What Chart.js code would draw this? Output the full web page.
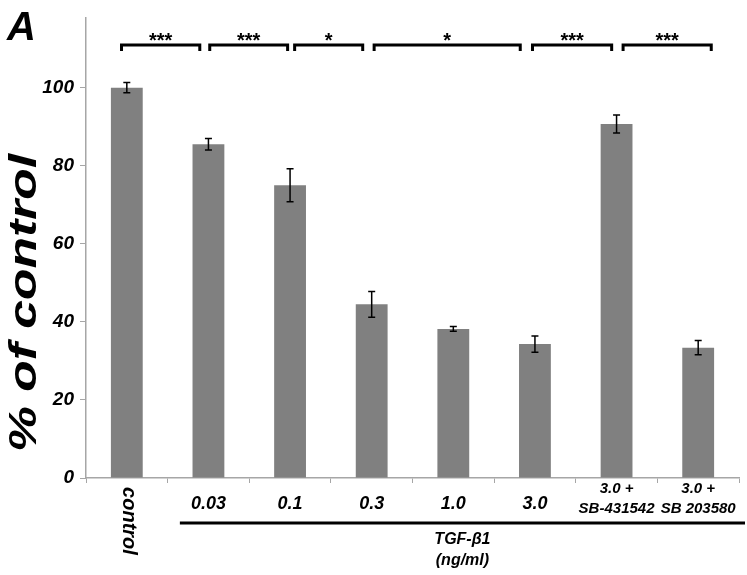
<!DOCTYPE html>
<html>
<head>
<meta charset="utf-8">
<script src="https://cdn.jsdelivr.net/npm/chart.js@4.4.1/dist/chart.umd.min.js"></script>
<style>
  html, body { margin: 0; padding: 0; background: #fff; }
  canvas { display: block; }
</style>
</head>
<body>
<canvas id="barChart" width="747" height="575"></canvas>
<script>
// данные с картинки
const categories = ["control", "0.03", "0.1", "0.3", "1.0", "3.0", ["3.0 +", "SB-431542"], ["3.0 +", "SB 203580"]];
const values = [100, 85.5, 75.0, 44.5, 38.2, 34.3, 90.7, 33.4];
const errors = [1.3, 1.5, 4.2, 3.3, 0.6, 2.1, 2.3, 1.8];
const yTicks = [0, 20, 40, 60, 80, 100];

// скобки значимости (в единицах категорий)
const bracketFrom = [-0.065, 1.016, 2.056, 3.03, 4.97, 6.08];
const bracketTo = [0.894, 1.97, 2.89, 4.82, 5.94, 7.16];
const bracketStars = ["***", "***", "*", "*", "***", "***"];

const groupLabel = ["TGF-β1", "(ng/ml)"];
const panelLabel = "A";
const yTitle = "% of control";

const FONT = "'Liberation Sans', Arial, sans-serif";
const AXIS_GRAY = "#a6a6a6";

// текст, растянутый до нужной ширины
function fitText(ctx, text, x, y, width) {
  const w = ctx.measureText(text).width;
  ctx.save();
  ctx.translate(x, y);
  ctx.scale(width / w, 1);
  ctx.fillText(text, 0, 0);
  ctx.restore();
}

const annotations = {
  id: "annotations",
  afterDatasetsDraw(chart) {
    const { ctx, scales: { x, y } } = chart;

    // error bars
    ctx.save();
    ctx.strokeStyle = "#000";
    ctx.lineWidth = 1.5;
    values.forEach((v, i) => {
      const cx = x.getPixelForValue(i);
      const top = y.getPixelForValue(v + errors[i]);
      const bot = y.getPixelForValue(v - errors[i]);
      ctx.beginPath();
      ctx.moveTo(cx, top); ctx.lineTo(cx, bot);
      ctx.moveTo(cx - 3.5, top); ctx.lineTo(cx + 3.5, top);
      ctx.moveTo(cx - 3.5, bot); ctx.lineTo(cx + 3.5, bot);
      ctx.stroke();
    });
    ctx.restore();
  },
  afterDraw(chart) {
    const { ctx, scales: { x, y } } = chart;
    ctx.save();
    ctx.fillStyle = "#000";
    ctx.strokeStyle = "#000";

    // panel letter
    ctx.font = `bold italic 40px ${FONT}`;
    ctx.textAlign = "left";
    ctx.textBaseline = "alphabetic";
    ctx.fillText(panelLabel, 7, 40);

    // y title, rotated
    ctx.save();
    ctx.translate(36, 302);
    ctx.rotate(-Math.PI / 2);
    ctx.font = `bold italic 39px ${FONT}`;
    ctx.textAlign = "left";
    fitText(ctx, yTitle, -150, 0, 298);
    ctx.restore();

    // x labels
    ctx.textAlign = "center";
    ctx.textBaseline = "middle";
    categories.forEach((c, i) => {
      const cx = x.getPixelForValue(i);
      if (i === 0) {
        ctx.save();
        ctx.translate(cx + 2, 521);
        ctx.rotate(Math.PI / 2);
        ctx.font = `bold italic 20px ${FONT}`;
        ctx.fillText(c, 0, 0);
        ctx.restore();
      } else if (Array.isArray(c)) {
        ctx.font = `bold italic 15px ${FONT}`;
        ctx.fillText(c[0], cx, 489);
        ctx.fillText(c[1], cx, 509);
      } else {
        ctx.font = `bold italic 18px ${FONT}`;
        ctx.fillText(c, cx, 504);
      }
    });

    // линия группы TGF
    const lineL = x.getPixelForValue(0.65);
    const lineR = 745;
    ctx.lineWidth = 3;
    ctx.beginPath();
    ctx.moveTo(lineL, 523); ctx.lineTo(lineR, 523);
    ctx.stroke();
    ctx.font = `bold italic 16px ${FONT}`;
    ctx.fillText(groupLabel[0], (lineL + lineR) / 2, 540);
    ctx.fillText(groupLabel[1], (lineL + lineR) / 2, 561);

    // скобки
    ctx.lineWidth = 3;
    ctx.lineJoin = "miter";
    ctx.textBaseline = "alphabetic";
    ctx.font = `bold 20px ${FONT}`;
    bracketFrom.forEach((f, i) => {
      const x0 = x.getPixelForValue(f);
      const x1 = x.getPixelForValue(bracketTo[i]);
      ctx.beginPath();
      ctx.moveTo(x0, 51); ctx.lineTo(x0, 45); ctx.lineTo(x1, 45); ctx.lineTo(x1, 51);
      ctx.stroke();
      ctx.fillText(bracketStars[i], (x0 + x1) / 2, 47);
    });

    ctx.restore();
  }
};

const ctx = document.getElementById("barChart").getContext("2d");
const chart = new Chart(ctx, {
  type: "bar",
  data: {
    labels: categories,
    datasets: [{
      data: values,
      backgroundColor: "#808080",
      borderWidth: 0,
      barPercentage: 0.39,
      categoryPercentage: 1.0
    }]
  },
  options: {
    responsive: false,
    animation: false,
    devicePixelRatio: 1,
    layout: { padding: { top: 13, right: 8, left: 0, bottom: 0 } },
    plugins: { legend: { display: false }, tooltip: { enabled: false } },
    scales: {
      x: {
        grid: { drawOnChartArea: false, tickLength: 5, color: AXIS_GRAY, offset: true },
        border: { color: AXIS_GRAY, width: 1.5 },
        ticks: { display: false },
        afterFit: s => { s.height = 97; }
      },
      y: {
        min: 0,
        max: 118,
        grid: { drawOnChartArea: false, tickLength: 6, color: AXIS_GRAY },
        border: { color: AXIS_GRAY, width: 1.5 },
        ticks: {
          includeBounds: false,
          stepSize: 20,
          padding: 6,
          color: "#000",
          font: { family: FONT, size: 19, weight: "bold", style: "italic" }
        },
        afterBuildTicks: s => { s.ticks = yTicks.map(v => ({ value: v })); },
        afterFit: s => { s.width = 86; }
      }
    }
  },
  plugins: [annotations]
});
</script>
</body>
</html>
